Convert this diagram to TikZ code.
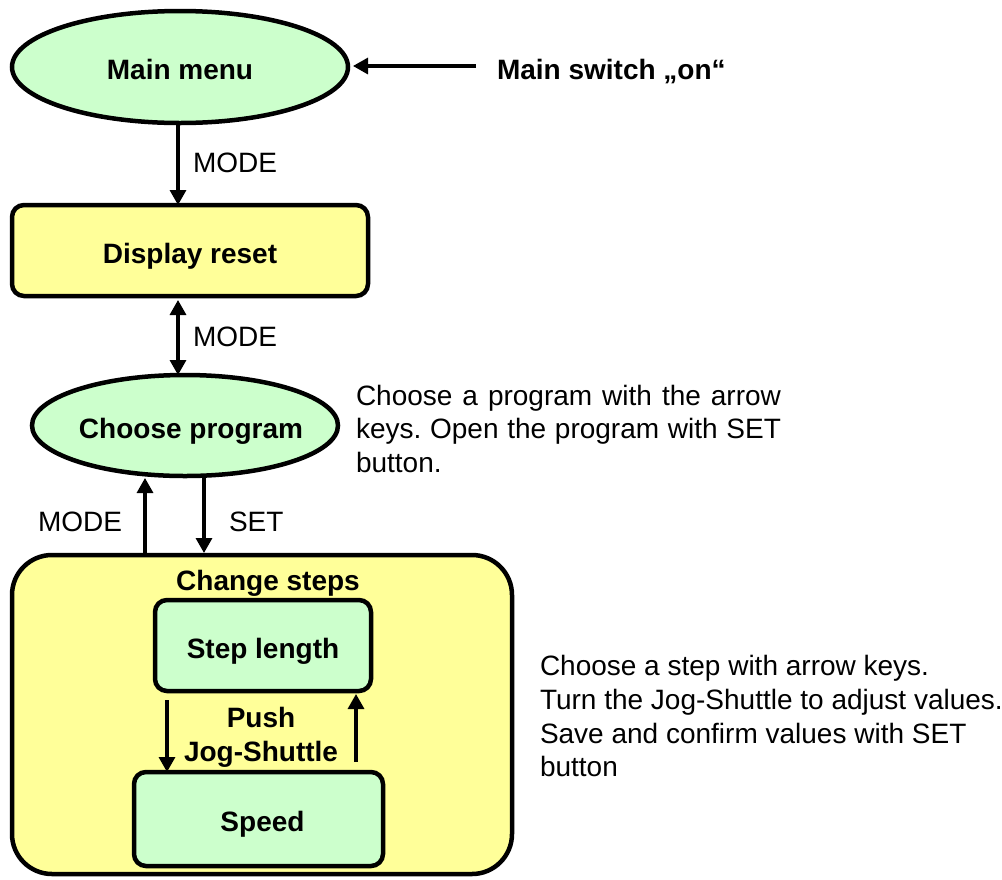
\documentclass[tikz,border=0pt]{standalone}
\usepackage{fontspec}
\setmainfont{Liberation Sans}
\frenchspacing
\usetikzlibrary{shapes.geometric,arrows.meta}
\definecolor{mint}{HTML}{CCFFCC}
\definecolor{pale}{HTML}{FFFF99}
\tikzset{
  txt/.style={font=\fontsize{28}{34}\selectfont, inner sep=0pt, outer sep=0pt},
  btxt/.style={txt, font=\fontsize{28}{34}\selectfont\bfseries},
  lowtxt/.style={btxt, text height=25pt, text depth=0pt},
  oval/.style={ellipse, draw, line width=4.5pt, fill=mint, lowtxt},
  greenbox/.style={rectangle, rounded corners=12pt, draw, line width=4.5pt, fill=mint, lowtxt},
  yellowbox/.style={rectangle, rounded corners=12pt, draw, line width=4.5pt, fill=pale, lowtxt},
  tip/.tip={Triangle[length=15pt,width=16pt]},
  arr/.style={line width=3.2pt, -tip},
  darr/.style={line width=3.2pt, tip-tip},
}
\begin{document}
\begin{tikzpicture}[x=1pt,y=-1pt]
\useasboundingbox (0,0) rectangle (1002,879);

% states
\node[oval, minimum width=336pt, minimum height=112pt] (mainmenu) at (180,67) {Main menu};
\node[yellowbox, minimum width=356pt, minimum height=91pt] (reset) at (190,250.5) {Display reset};
\node[oval, minimum width=306pt, minimum height=101pt,
      label={[lowtxt, xshift=6pt]center:Choose program}] (choose) at (185,425.5) {};

% step editor frame
\node[yellowbox, rounded corners=40pt, minimum width=500pt, minimum height=319pt] (steps) at (262,714.5) {};
\node[lowtxt] (stepstitle) at (268,578) {Change steps};
\node[greenbox, minimum width=216pt, minimum height=91pt] (steplen) at (263,645.5) {Step length};
\node[greenbox, minimum width=249pt, minimum height=94pt] (speed) at (258.5,819) {\hspace*{8pt}Speed};
\node[btxt, align=center] (push) at (261,737) {Push\\Jog-Shuttle};

% power switch
\node[btxt, anchor=base west] (switch) at (497,79) {Main switch „on“};
\coordinate (swstart) at (476,66);
\draw[arr, shorten >=5pt] (swstart) -- (swstart -| mainmenu.east);

% column positions of the vertical connectors
\coordinate (colA) at (178,0);
\coordinate (colB) at (145,0);
\coordinate (colC) at (204,0);
\coordinate (colD) at (167,0);
\coordinate (colE) at (356,0);

\draw[arr, shorten <=2pt] (mainmenu.south -| colA) -- (reset.north -| colA);
\node[txt, anchor=base west] (lblmode1) at (193,172) {MODE};

\draw[darr, shorten <=4pt] (reset.south -| colA) -- (choose.north -| colA);
\node[txt, anchor=base west] (lblmode2) at (193,346) {MODE};

\draw[arr] (steps.north -| colB) -- ([yshift=-2pt]choose.south -| colB);
\node[txt, anchor=base west] (lblmode3) at (38,531) {MODE};

\draw[arr, shorten <=2pt, shorten >=2pt] (choose.south -| colC) -- (steps.north -| colC);
\node[txt, anchor=base west] (lblset) at (229,531) {SET};

\draw[arr, shorten <=9pt] (steplen.south -| colD) -- (speed.north -| colD);
\draw[arr, shorten <=10pt, shorten >=3pt] (speed.north -| colE) -- (steplen.south -| colE);

% notes
\node[txt, anchor=base west] (note1a) at (356,405) {\makebox[425pt][s]{Choose a program with the arrow}};
\node[txt, anchor=base west] (note1b) at (356,438.5) {\makebox[425pt][s]{keys. Open the program with SET}};
\node[txt, anchor=base west] (note1c) at (356,472) {button.};

\node[txt, anchor=base west] (note2a) at (540,675) {Choose a step with arrow keys.};
\node[txt, anchor=base west] (note2b) at (540,709) {Turn the Jog-Shuttle to adjust values.};
\node[txt, anchor=base west] (note2c) at (540,743) {Save and confirm values with SET};
\node[txt, anchor=base west] (note2d) at (540,776) {button};
\end{tikzpicture}
\end{document}
